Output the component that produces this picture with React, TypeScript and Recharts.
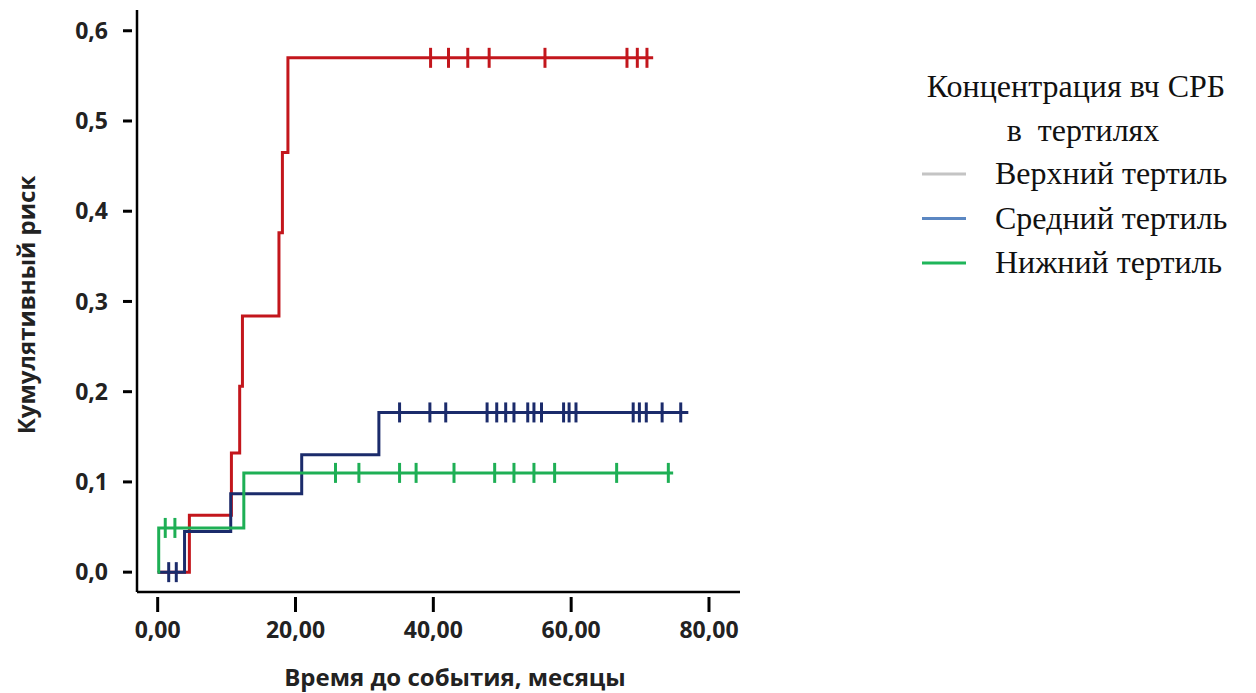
import { LineChart, Line, XAxis, YAxis, Label } from 'recharts'

// time axis (months) and risk axis ticks
const TIME_TICKS = [0, 20, 40, 60, 80]
const RISK_TICKS = [0, 0.1, 0.2, 0.3, 0.4, 0.5, 0.6]

// upper tertile (red)
const upperEventT = [0, 4.6, 10.7, 11.9, 12.3, 17.6, 18.1, 18.9]
const upperEventR = [0, 0.063, 0.132, 0.206, 0.284, 0.376, 0.465, 0.57]
const upperCensorT = [39.6, 42.2, 45.0, 48.1, 56.2, 68.1, 69.6, 71.0]
const upperEndT = 71.9

// middle tertile (navy)
const middleEventT = [0, 3.9, 10.6, 20.9, 32.1]
const middleEventR = [0, 0.045, 0.087, 0.13, 0.177]
const middleCensorT = [
  1.6, 2.7, 35.1, 39.5, 41.8, 47.8, 49.2, 50.5, 51.7, 53.7, 54.6, 55.7, 58.9, 59.7, 60.7, 69.0,
  69.9, 70.9, 73.2, 75.9,
]
const middleEndT = 77.0

// lower tertile (green)
const lowerEventT = [0, 0.15, 12.5]
const lowerEventR = [0, 0.049, 0.11]
const lowerCensorT = [1.1, 2.5, 25.8, 29.2, 35.1, 37.5, 43.0, 48.9, 51.7, 54.6, 57.6, 66.6, 74.1]
const lowerEndT = 74.8

// legend (colours as printed in the original legend)
const legendTitle = ['Концентрация вч СРБ', 'в  тертилях']
const legendLabels = ['Верхний тертиль', 'Средний тертиль', 'Нижний тертиль']
const legendColors = ['#c4c4c4', '#5b87c2', '#1fb55a']

type Pt = { t: number; r: number; c: boolean }

function buildCurve(eventT: number[], eventR: number[], censorT: number[], endT: number): Pt[] {
  const pts: Pt[] = eventT.map((t, i) => ({ t, r: eventR[i], c: false }))
  censorT.forEach((t) => {
    let r = 0
    eventT.forEach((et, i) => {
      if (et <= t) r = eventR[i]
    })
    pts.push({ t, r, c: true })
  })
  pts.push({ t: endT, r: eventR[eventR.length - 1], c: false })
  return pts.sort((a, b) => a.t - b.t)
}

const upper = buildCurve(upperEventT, upperEventR, upperCensorT, upperEndT)
const middle = buildCurve(middleEventT, middleEventR, middleCensorT, middleEndT)
const lower = buildCurve(lowerEventT, lowerEventR, lowerCensorT, lowerEndT)

const SANS = "'Open Sans', sans-serif"
const SERIF = "'Liberation Serif', 'Times New Roman', serif"

const censorMark = (color: string) => (props: any) => {
  const { cx, cy, payload, index } = props
  if (!payload || !payload.c) return <g key={`n-${index}`} />
  return (
    <line
      key={`c-${index}`}
      x1={cx}
      x2={cx}
      y1={cy - 10}
      y2={cy + 10}
      stroke={color}
      strokeWidth={3}
    />
  )
}

const YTick = (props: any) => {
  const { x, y, payload } = props
  return (
    <g>
      <line x1={x - 14} x2={x - 5} y1={y} y2={y} stroke="#000" strokeWidth={3} />
      <text
        x={x - 29}
        y={y}
        dy="0.35em"
        textAnchor="end"
        fontFamily={SANS}
        fontWeight={700}
        fontSize={23}
        fill="#222"
      >
        {payload.value.toFixed(1).replace('.', ',')}
      </text>
    </g>
  )
}

const XTick = (props: any) => {
  const { x, y, payload } = props
  return (
    <g>
      <line x1={x} x2={x} y1={y + 5} y2={y + 20} stroke="#000" strokeWidth={3} />
      <text
        x={x}
        y={y + 38}
        dy="0.35em"
        textAnchor="middle"
        fontFamily={SANS}
        fontWeight={700}
        fontSize={23}
        fill="#222"
      >
        {payload.value.toFixed(2).replace('.', ',')}
      </text>
    </g>
  )
}

export default function App() {
  return (
    <div
      style={{
        position: 'absolute',
        left: 0,
        top: 0,
        width: 1256,
        height: 693,
        background: '#fff',
      }}
    >
      <LineChart width={1256} height={693} margin={{ top: 10, right: 516, bottom: 0, left: 0 }}>
        <XAxis
          type="number"
          dataKey="t"
          domain={[-3, 84.5]}
          ticks={TIME_TICKS}
          allowDataOverflow
          height={101}
          tickSize={0}
          tickMargin={0}
          tickLine={false}
          tick={<XTick />}
          axisLine={{ stroke: '#000', strokeWidth: 2.5 }}
        >
          <Label
            content={() => (
              <text
                x={455}
                y={678}
                dy="0.35em"
                textAnchor="middle"
                fontFamily={SANS}
                fontWeight={700}
                fontSize={24}
                fill="#222"
              >
                Время до события, месяцы
              </text>
            )}
          />
        </XAxis>
        <YAxis
          type="number"
          domain={[-0.022, 0.623]}
          ticks={RISK_TICKS}
          allowDataOverflow
          width={137}
          tickSize={0}
          tickMargin={0}
          tickLine={false}
          tick={<YTick />}
          axisLine={{ stroke: '#000', strokeWidth: 2.5 }}
        >
          <Label
            content={() => (
              <text
                x={27}
                y={305}
                dy="0.35em"
                transform="rotate(-90 27 305)"
                textAnchor="middle"
                fontFamily={SANS}
                fontWeight={700}
                fontSize={24}
                fill="#222"
              >
                Кумулятивный риск
              </text>
            )}
          />
        </YAxis>
        <Line
          data={upper}
          dataKey="r"
          type="stepAfter"
          stroke="#c3161c"
          strokeWidth={3}
          dot={censorMark('#c3161c')}
          activeDot={false}
          isAnimationActive={false}
        />
        <Line
          data={middle}
          dataKey="r"
          type="stepAfter"
          stroke="#1b2b6b"
          strokeWidth={3}
          dot={censorMark('#1b2b6b')}
          activeDot={false}
          isAnimationActive={false}
        />
        <Line
          data={lower}
          dataKey="r"
          type="stepAfter"
          stroke="#1eaf55"
          strokeWidth={3}
          dot={censorMark('#1eaf55')}
          activeDot={false}
          isAnimationActive={false}
        />
      </LineChart>

      {/* legend block on the right */}
      <svg width={1256} height={693} style={{ position: 'absolute', left: 0, top: 0, pointerEvents: 'none' }}>
        {legendTitle.map((s, i) => (
          <text
            key={s}
            x={i === 0 ? 1076 : 1083}
            y={86 + i * 44}
            dy="0.35em"
            textAnchor="middle"
            fontFamily={SERIF}
            fontSize={32}
            fill="#111"
            style={{ whiteSpace: 'pre' }}
          >
            {s}
          </text>
        ))}
        {legendLabels.map((s, i) => (
          <g key={s}>
            <line
              x1={922}
              x2={966}
              y1={174 + i * 44.5}
              y2={174 + i * 44.5}
              stroke={legendColors[i]}
              strokeWidth={3}
            />
            <text
              x={995}
              y={173 + i * 44.5}
              dy="0.35em"
              fontFamily={SERIF}
              fontSize={32}
              fill="#111"
            >
              {s}
            </text>
          </g>
        ))}
      </svg>
    </div>
  )
}
